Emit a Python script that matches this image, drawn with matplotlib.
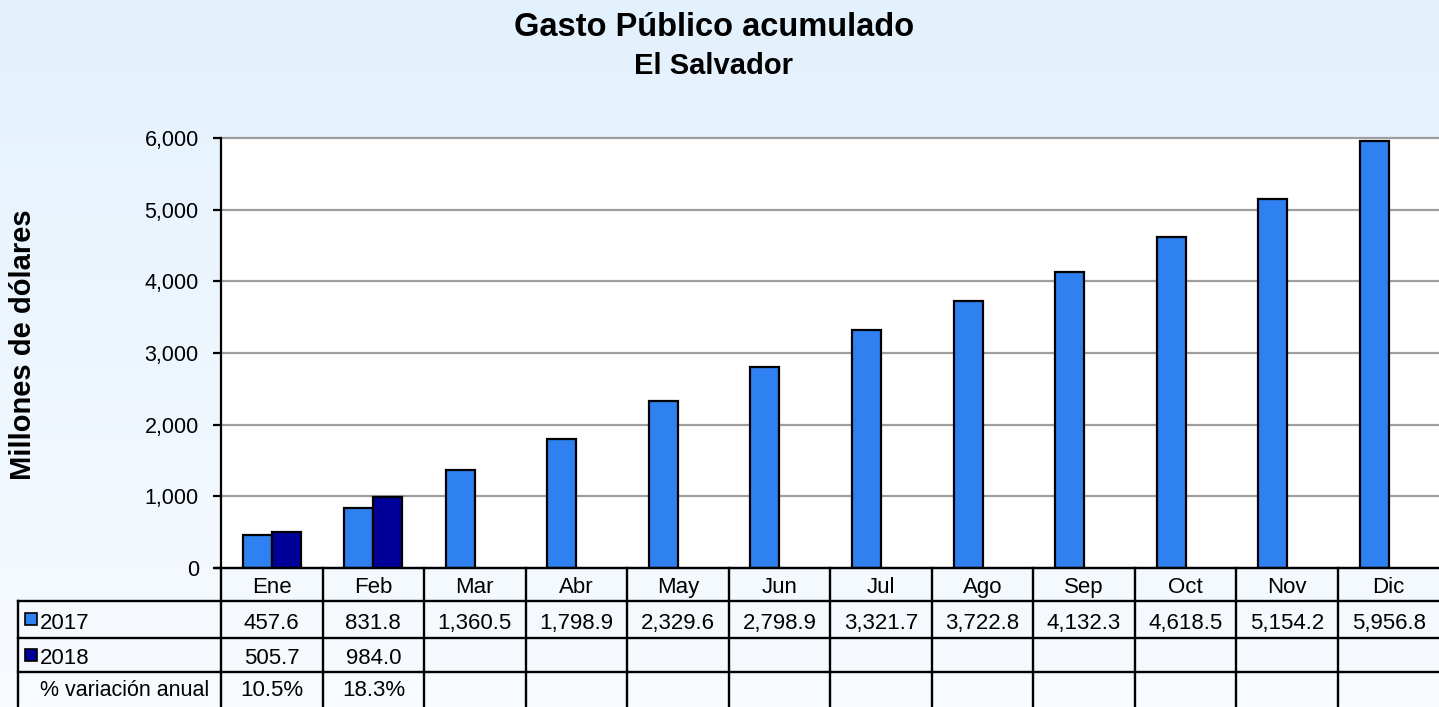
import numpy as np
import matplotlib
matplotlib.use("Agg")
import matplotlib.pyplot as plt
from matplotlib.patches import Rectangle
from matplotlib.colors import LinearSegmentedColormap

plt.rcParams['font.family'] = ['Liberation Sans', 'DejaVu Sans']

# monthly accumulated public spending, millions of USD
meses = ["Ene", "Feb", "Mar", "Abr", "May", "Jun", "Jul", "Ago", "Sep", "Oct", "Nov", "Dic"]
gasto_2017 = [457.6, 831.8, 1360.5, 1798.9, 2329.6, 2798.9, 3321.7, 3722.8, 4132.3, 4618.5, 5154.2, 5956.8]
gasto_2018 = [505.7, 984.0]
y_ticks = [0, 1000, 2000, 3000, 4000, 5000, 6000]

c2017 = "#2F80F0"
c2018 = "#000099"

W, H = 1439, 707
fig = plt.figure(figsize=(W / 100, H / 100), dpi=100)

# soft blue background
bg = fig.add_axes([0, 0, 1, 1], zorder=-10)
grad = np.linspace(0, 1, 256).reshape(-1, 1)
cmap = LinearSegmentedColormap.from_list("bg", ["#E3F1FD", "#F8FBFF"])
bg.imshow(grad, aspect="auto", cmap=cmap, extent=[0, 1, 0, 1], origin="upper")
bg.set_axis_off()

# plot area in pixel terms
x0, x1 = 221, 1439.5
ytop, ybot = 138, 568
ax = fig.add_axes([x0 / W, (H - ybot) / H, (x1 - x0) / W, (ybot - ytop) / H])
ax.set_facecolor("white")

n = len(meses)
x = np.arange(n)
bw = 0.286
ax.bar(x - bw / 2, gasto_2017, bw, color=c2017, edgecolor="black", linewidth=1.6, zorder=3)
x18 = np.arange(len(gasto_2018))
ax.bar(x18 + bw / 2, gasto_2018, bw, color=c2018, edgecolor="black", linewidth=1.6, zorder=3)

ax.set_xlim(-0.5, n - 0.5)
ax.set_ylim(0, 6000)
ax.set_yticks(y_ticks)
ax.set_yticklabels([f"{v:,.0f}" for v in y_ticks])
ax.set_xticks([])
ax.yaxis.grid(True, color="#9E9E9E", linewidth=1.6)
for gl in ax.get_ygridlines():
    gl.set_clip_on(False)
ax.set_axisbelow(True)
for s in ["top", "right", "bottom"]:
    ax.spines[s].set_visible(False)
ax.spines["left"].set_linewidth(1.6)
ax.spines["left"].set_zorder(4)
ax.tick_params(axis="y", direction="out", length=6, width=1.6, labelsize=15.5, pad=10)

# data table below the bars, columns lined up with the categories
tl = 18
tax = fig.add_axes([tl / W, 0, (x1 - tl) / W, (H - ybot) / H], zorder=2)
ppu = (x1 - x0) / n  # pixels per category
left = -0.5 - (x0 - tl) / ppu
tax.set_xlim(left, n - 0.5)
tax.set_ylim(H, ybot)
tax.set_axis_off()
tax.patch.set_alpha(0)

rows = [568, 600.5, 637.5, 672, H + 5]
lw = 1.7
tax.plot([-0.5 - 6 / ppu, n - 0.5], [rows[0]] * 2, color="black", lw=lw, clip_on=False)
for r in rows[1:4]:
    tax.plot([left, n - 0.5], [r, r], color="black", lw=lw, clip_on=False)
tax.plot([left, left], [rows[1], rows[-1]], color="black", lw=lw, clip_on=False)
for b in np.arange(n) - 0.5:
    tax.plot([b, b], [rows[0], rows[-1]], color="black", lw=lw, clip_on=False)

fs = 16
base = [593, 629, 664, 696]
for i, m in enumerate(meses):
    tax.text(i, base[0], m, ha="center", va="baseline", fontsize=fs)
    tax.text(i, base[1], f"{gasto_2017[i]:,.1f}", ha="center", va="baseline", fontsize=fs)
for i, v in enumerate(gasto_2018):
    tax.text(i, base[2], f"{v:,.1f}", ha="center", va="baseline", fontsize=fs)
    var = (v / gasto_2017[i] - 1) * 100
    tax.text(i, base[3], f"{var:.1f}%", ha="center", va="baseline", fontsize=fs)

for r, lab, col in [(1, "2017", c2017), (2, "2018", c2018)]:
    cy = (rows[r] + rows[r + 1]) / 2
    tax.add_patch(Rectangle((left + 7 / ppu, cy - 6), 12 / ppu, 12, facecolor=col,
                            edgecolor="black", lw=1.2, clip_on=False))
    tax.text(left + 22 / ppu, base[r], lab, ha="left", va="baseline", fontsize=fs)
tax.text(left + 107 / ppu, base[3], "% variación anual", ha="center", va="baseline", fontsize=15.5)

fig.text(714 / W, 1 - 36 / H, "Gasto Público acumulado", ha="center", va="baseline",
         fontsize=23.5, fontweight="bold")
fig.text(714 / W, 1 - 74 / H, "El Salvador", ha="center", va="baseline",
         fontsize=21, fontweight="bold")
fig.text(23 / W, 1 - 345 / H, "Millones de dólares", rotation=90, ha="center", va="center",
         fontsize=21, fontweight="bold")

fig.savefig("out.png", dpi=100)
